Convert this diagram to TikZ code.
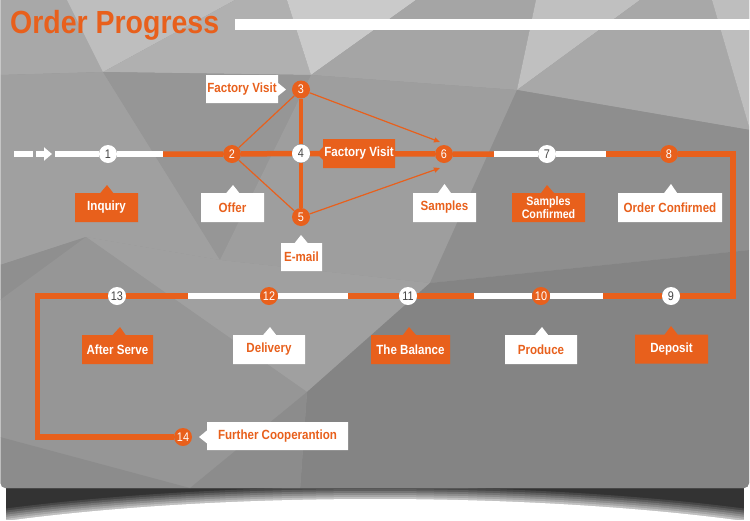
\documentclass[tikz,border=0pt]{standalone}
\usepackage{fontspec}
\setmainfont{Liberation Sans}
\newfontfamily\labfont[FakeStretch=0.87]{Liberation Sans}
\newfontfamily\ttlfont[FakeStretch=0.89]{Liberation Sans}
\usetikzlibrary{shapes.callouts,arrows.meta}
\definecolor{orr}{RGB}{232,96,28}
\definecolor{numgray}{RGB}{70,70,70}
\pgfdeclarelayer{bgl}
\pgfdeclarelayer{lnl}
\pgfsetlayers{bgl,lnl,main}
\newcommand{\gpoly}[2]{\fill[fill={rgb,255:red,#1;green,#1;blue,#1}] #2;}
\begin{document}
\begin{tikzpicture}[x=1pt,y=-1pt,
  dot/.style={circle, minimum size=18pt, inner sep=0pt, font=\labfont\fontsize{12.5}{12.5}\selectfont},
  odot/.style={dot, fill=orr, text=white},
  wdot/.style={dot, fill=white, text=numgray},
  lbl/.style={rectangle callout, callout pointer width=13pt, minimum height=29pt, inner sep=0pt, align=center, font=\labfont\bfseries\fontsize{13.3}{14}\selectfont},
  olbl/.style={lbl, fill=orr, text=white},
  wlbl/.style={lbl, fill=white, text=orr},
  oline/.style={draw=orr, line width=5.5pt},
  wline/.style={draw=white, line width=5.5pt},
  thinl/.style={draw=orr, line width=1.2pt}
]
\useasboundingbox (0,0) rectangle (750,520);

% ---------- background ----------
\begin{pgfonlayer}{bgl}
  \fill[white] (0,0) rectangle (750,520);
  % bottom shadow
  \fill[black!80] (6,484) rectangle (744,520);
  \foreach \k/\o in {12/0.1,10/0.12,8/0.15,6/0.18,4/0.22,2/0.3}
    \fill[white,opacity=\o] (375,603) ellipse [x radius=600pt+3pt*\k, y radius=104pt+\k pt];
  \fill[white] (375,603) ellipse [x radius=600pt, y radius=104pt];
  % gray panel
  \begin{scope}
    \clip[rounded corners=5pt] (0.5,-10) rectangle (749,488);
    \gpoly{152}{(0,-10) rectangle (750,490)}
    \gpoly{168}{(0,0) -- (67,0) -- (103,72) -- (0,75) -- cycle}
    \gpoly{190}{(67,0) -- (235,0) -- (103,72) -- cycle}
    \gpoly{176}{(235,0) -- (287,0) -- (311,75) -- (103,72) -- cycle}
    \gpoly{202}{(287,0) -- (416,0) -- (311,75) -- cycle}
    \gpoly{165}{(416,0) -- (536,0) -- (517,90) -- (311,75) -- cycle}
    \gpoly{192}{(536,0) -- (640,0) -- (517,90) -- cycle}
    \gpoly{168}{(640,0) -- (712,0) -- (750,130) -- (517,90) -- cycle}
    \gpoly{190}{(712,0) -- (750,0) -- (750,130) -- cycle}
    \gpoly{160}{(0,75) -- (103,72) -- (220,260) -- (86,237) -- (0,265) -- cycle}
    \gpoly{150}{(103,72) -- (311,75) -- (220,260) -- cycle}
    \gpoly{158}{(311,75) -- (517,90) -- (430,283) -- (220,260) -- cycle}
    \gpoly{142}{(517,90) -- (750,130) -- (750,250) -- (430,283) -- cycle}
    \gpoly{143}{(0,265) -- (86,237) -- (160,300) -- (0,300) -- cycle}
    \gpoly{160}{(86,237) -- (220,260) -- (430,283) -- (307,392) -- cycle}
    \gpoly{150}{(0,300) -- (86,237) -- (307,392) -- (190,488) -- (0,437) -- cycle}
    \gpoly{132}{(430,283) -- (750,250) -- (750,490) -- (300,490) -- (307,392) -- cycle}
    \gpoly{140}{(0,437) -- (190,488) -- (0,490) -- cycle}
    \gpoly{140}{(190,488) -- (307,392) -- (300,490) -- cycle}
  \end{scope}
\end{pgfonlayer}

% ---------- title ----------
\node[anchor=base west, inner sep=0pt, text=orr, font=\ttlfont\bfseries\fontsize{32}{34}\selectfont] (ttl) at (10,33.5) {Order Progress};
\fill[white] (235,19) rectangle (750,29.5);

% ---------- step nodes ----------
\node[wdot] (n1) at (108,154) {1};
\node[odot] (n2) at (232,154) {2};
\node[odot] (n3) at (301,89.5) {3};
\node[wdot] (n4) at (301,153.5) {4};
\node[odot] (n5) at (301,217) {5};
\node[odot] (n6) at (444,154) {6};
\node[wdot] (n7) at (547,154) {7};
\node[odot] (n8) at (669,154) {8};
\node[wdot] (n9) at (671,296) {9};
\node[odot] (n10) at (541,296) {10};
\node[wdot] (n11) at (408,296) {11};
\node[odot] (n12) at (269,296) {12};
\node[wdot] (n13) at (117,296) {13};
\node[odot] (n14) at (183,437) {14};

% ---------- path coordinates ----------
\coordinate (d1) at (14,154);
\coordinate (d2) at (33,154);
\coordinate (a1) at (36,154);
\coordinate (a2) at (52,154);
\coordinate (w1) at (55,154);
\coordinate (s1) at (163,154);
\coordinate (s2) at (494,154);
\coordinate (s3) at (606,154);
\coordinate (c1) at (733,154);
\coordinate (c2) at (733,296);
\coordinate (s4) at (603,296);
\coordinate (s5) at (474,296);
\coordinate (s6) at (348,296);
\coordinate (s7) at (188,296);
\coordinate (c3) at (37.5,296);
\coordinate (c4) at (37.5,437);
\coordinate (t6a) at (440,142);
\coordinate (t6b) at (440,168);

% ---------- connectors ----------
\begin{pgfonlayer}{lnl}
  \draw[wline] (d1) -- (d2);
  \draw[wline, -{Triangle[length=8pt,width=13pt]}] (a1) -- (a2);
  \draw[wline] (w1) -- (n1) -- (s1);
  \draw[oline] (s1) -- (n2) -- (n4) -- (n6) -- (s2);
  \draw[wline] (s2) -- (n7) -- (s3);
  \draw[oline] (s3) -- (n8) -- (c1) -- (c2) -- (n9) -- (s4);
  \draw[wline] (s4) -- (n10) -- (s5);
  \draw[oline] (s5) -- (n11) -- (s6);
  \draw[wline] (s6) -- (n12) -- (s7);
  \draw[oline] (s7) -- (n13) -- (c3) -- (c4) -- (n14);
  \draw[draw=orr, line width=4pt] (n3) -- (n4) -- (n5);
  \draw[thinl] (n2) -- (n3);
  \draw[thinl] (n2) -- (n5);
  \draw[thinl, -{Triangle[length=6pt,width=5pt]}] (n3) -- (t6a);
  \draw[thinl, -{Triangle[length=6pt,width=5pt]}] (n5) -- (t6b);
\end{pgfonlayer}

% ---------- labels ----------
\node[wlbl, minimum width=72pt, minimum height=28pt, callout absolute pointer={(286,89.5)}] (fv1) at (242,89) {Factory Visit};
\node[olbl, minimum width=63pt, callout absolute pointer={(107,185)}] (inq) at (106.5,207.5) {Inquiry};
\node[wlbl, minimum width=63pt, callout absolute pointer={(233,185)}] (off) at (232.5,207.5) {Offer};
\node[wlbl, minimum width=41pt, minimum height=28pt, callout absolute pointer={(301,235)}] (eml) at (301.5,257) {E-mail};
\node[olbl, minimum width=72pt, callout absolute pointer={(317,153.5)}] (fv2) at (359,153.5) {Factory Visit};
\node[wlbl, minimum width=63pt, callout absolute pointer={(444.5,184)}] (smp) at (444.5,207.5) {Samples};
\node[olbl, minimum width=73pt, font=\labfont\bfseries\fontsize{12.3}{13.5}\selectfont, callout absolute pointer={(547,185)}] (sc) at (548.5,207.5) {Samples\\Confirmed};
\node[wlbl, minimum width=104pt, callout absolute pointer={(671,184)}] (oc) at (670,207.5) {Order Confirmed};
\node[olbl, minimum width=71pt, callout absolute pointer={(120,327)}] (as) at (117.5,349.5) {After Serve};
\node[wlbl, minimum width=72pt, callout absolute pointer={(270,327)}] (dl) at (269,349.5) {Delivery};
\node[olbl, minimum width=79pt, callout absolute pointer={(409,327)}] (tb) at (410.5,349.5) {The Balance};
\node[wlbl, minimum width=72pt, callout absolute pointer={(542,327)}] (pr) at (541,349.5) {Produce};
\node[olbl, minimum width=73pt, callout absolute pointer={(671,326)}] (dp) at (671.5,349) {Deposit};
\node[wlbl, minimum width=141pt, minimum height=28pt, callout absolute pointer={(199,437)}] (fc) at (277.5,436) {Further Cooperantion};
\end{tikzpicture}
\end{document}
